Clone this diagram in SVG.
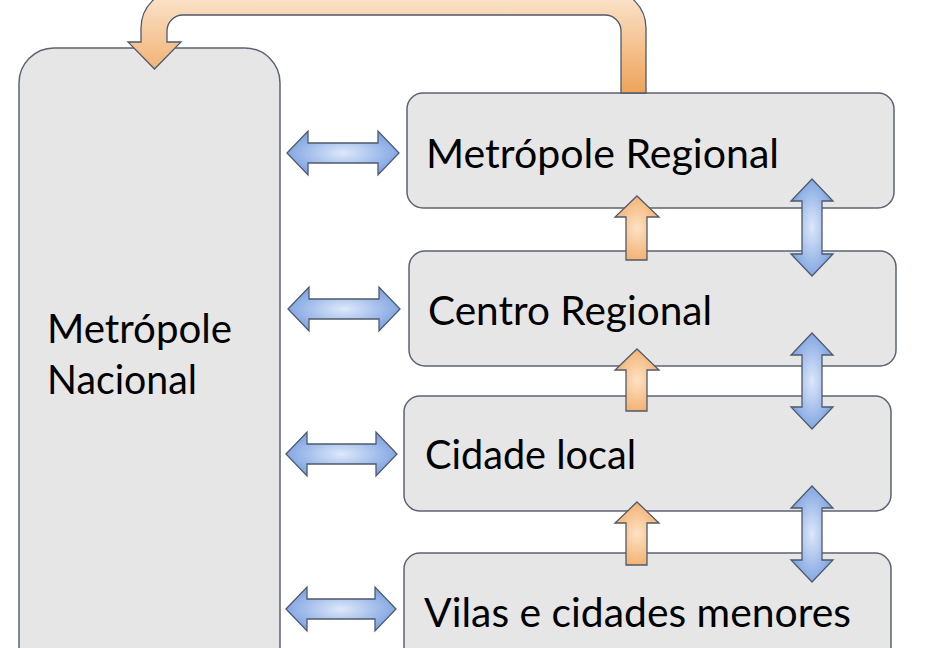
<svg xmlns="http://www.w3.org/2000/svg" width="926" height="648" viewBox="0 0 926 648">
<defs>
<radialGradient id="gBlue" cx="0.5" cy="0.5" r="0.6">
<stop offset="0" stop-color="#dde8fa"/>
<stop offset="1" stop-color="#729ade"/>
</radialGradient>
<radialGradient id="gOrange" cx="0.5" cy="0.5" r="0.6">
<stop offset="0" stop-color="#fde2c4"/>
<stop offset="1" stop-color="#f2aa66"/>
</radialGradient>
<linearGradient id="gLoop" gradientUnits="userSpaceOnUse" x1="0" y1="-10" x2="0" y2="93">
<stop offset="0" stop-color="#fbe7d0"/>
<stop offset="1" stop-color="#efa35a"/>
</linearGradient>
</defs>
<style>
.box{fill:#e6e6e6;stroke:#5b6472;stroke-width:1.5}
.lbl{font-family:Lato,"Open Sans",sans-serif;font-size:40px;fill:#000}
.blue{fill:url(#gBlue);stroke:#4f5a6b;stroke-width:1.3;stroke-linejoin:miter}
.orange{fill:url(#gOrange);stroke:#4f5a6b;stroke-width:1.3}
.loop{fill:url(#gLoop);stroke:#4f5a6b;stroke-width:1.3}
</style>
<rect width="926" height="648" fill="#ffffff"/>
<g id="metropole-nacional">
<rect class="box" x="19" y="48" width="261" height="700" rx="35" ry="35"/>
<text class="lbl" x="47" y="343" textLength="185" lengthAdjust="spacingAndGlyphs">Metrópole</text>
<text class="lbl" x="47" y="394" textLength="150" lengthAdjust="spacingAndGlyphs">Nacional</text>
</g>
<g id="metropole-regional">
<rect class="box" x="407" y="93" width="487" height="115" rx="16" ry="16"/>
<text class="lbl" x="426" y="168" textLength="353" lengthAdjust="spacingAndGlyphs">Metrópole Regional</text>
</g>
<g id="centro-regional">
<rect class="box" x="409" y="251" width="487" height="115" rx="16" ry="16"/>
<text class="lbl" x="428" y="325" textLength="284" lengthAdjust="spacingAndGlyphs">Centro Regional</text>
</g>
<g id="cidade-local">
<rect class="box" x="404" y="396" width="487" height="115" rx="16" ry="16"/>
<text class="lbl" x="425" y="469" textLength="211" lengthAdjust="spacingAndGlyphs">Cidade local</text>
</g>
<g id="vilas">
<rect class="box" x="404" y="553" width="487" height="130" rx="16" ry="16"/>
<text class="lbl" x="424" y="627" textLength="427" lengthAdjust="spacingAndGlyphs">Vilas e cidades menores</text>
</g>
<g id="connectors">
<path class="loop" d="M646,93 L646,28 A38,38 0 0 0 608,-10 L179,-10 A38,38 0 0 0 141,28 L141,42 L128,42 L154.5,69 L181,42 L167,42 L167,31 A16,16 0 0 1 183,15 L605,15 A16,16 0 0 1 621,31 L621,93 Z"/>
<path class="blue" d="M287,153 L308,131 L308,143 L378,143 L378,131 L399,153 L378,175 L378,163 L308,163 L308,175 Z"/>
<path class="blue" d="M288,309 L309,287 L309,299 L379,299 L379,287 L400,309 L379,331 L379,319 L309,319 L309,331 Z"/>
<path class="blue" d="M286,454 L307,432 L307,444 L376,444 L376,432 L397,454 L376,476 L376,464 L307,464 L307,476 Z"/>
<path class="blue" d="M286,609 L307,587 L307,599 L375,599 L375,587 L396,609 L375,631 L375,619 L307,619 L307,631 Z"/>
<path class="blue" d="M812,179 L833,201 L822,201 L822,254 L833,254 L812,276 L791,254 L802,254 L802,201 L791,201 Z"/>
<path class="blue" d="M812,333 L833,355 L822,355 L822,407 L833,407 L812,429 L791,407 L802,407 L802,355 L791,355 Z"/>
<path class="blue" d="M812,486 L833,508 L822,508 L822,560 L833,560 L812,582 L791,560 L802,560 L802,508 L791,508 Z"/>
<path class="orange" d="M637,196 L659,217 L647,217 L647,260 L626,260 L626,217 L615,217 Z"/>
<path class="orange" d="M637,349 L659,370 L647,370 L647,411 L626,411 L626,370 L615,370 Z"/>
<path class="orange" d="M637,502 L659,523 L647,523 L647,565 L626,565 L626,523 L615,523 Z"/>
</g>
</svg>
